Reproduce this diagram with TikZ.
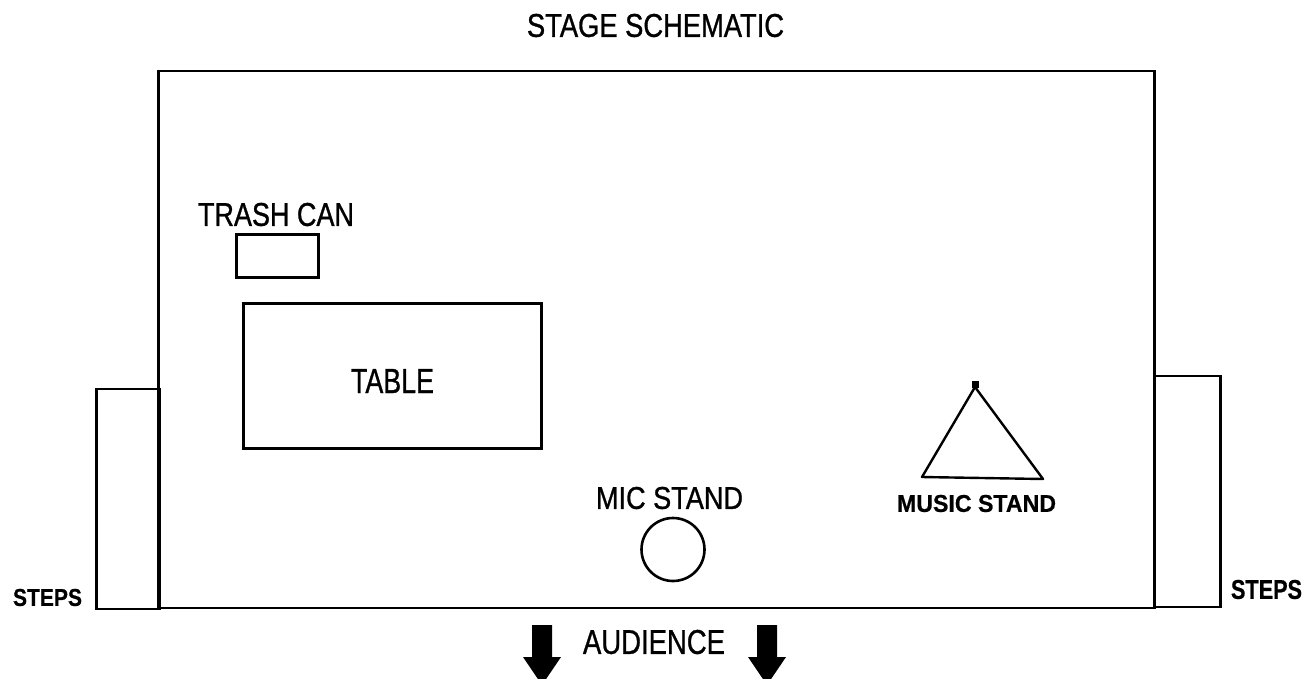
\documentclass[tikz,border=0pt]{standalone}
\usepackage{fontspec}
\setmainfont[FakeBold=1.0]{Liberation Sans}
\newfontfamily\boldsans[FakeBold=0.6]{Liberation Sans Bold}
\usepackage{graphicx}
\newcommand{\fitt}[3]{\resizebox{#1pt}{#2pt}{#3}}
\begin{document}
\begin{tikzpicture}[x=1pt,y=-1pt,
  outline/.style={draw=black, line width=2.6pt, inner sep=0pt, outer sep=0pt, fill=none},
  lbl/.style={inner sep=0pt, outer sep=0pt, text=black}]
\useasboundingbox (0,0) rectangle (1305,678);
\clip (0,0) rectangle (1305,678);
% title
\node[lbl] (title) at (655.5,25.5) {\fitt{257}{23}{STAGE SCHEMATIC}};
% stage
\node[outline, minimum width=996pt, minimum height=537pt] (stage) at (656.5,339.5) {};
% steps
\node[outline, minimum width=63pt, minimum height=220pt] (stepsLbox) at (128,499) {};
\node[outline, minimum width=66pt, minimum height=231pt] (stepsRbox) at (1187.5,491.5) {};
\node[lbl] (stepsL) at (47.5,597.5) {\fitt{69}{17}{\boldsans STEPS}};
\node[lbl] (stepsR) at (1266.5,589.5) {\fitt{71}{19}{\boldsans STEPS}};
% trash can
\node[lbl] (trashlbl) at (276,214.5) {\fitt{156}{23}{TRASH CAN}};
\node[outline, minimum width=82pt, minimum height=43pt] (trash) at (277.5,256) {};
% table
\node[outline, minimum width=298pt, minimum height=145pt] (table) at (392.5,376) {};
\node[lbl] (tablelbl) at (392.5,381) {\fitt{83}{24}{TABLE}};
% mic stand
\node[lbl] (miclbl) at (669.5,498) {\fitt{147}{22}{MIC STAND}};
\node[outline, circle, minimum size=63pt] (mic) at (673,549.5) {};
% music stand
\coordinate (apex) at (975,387);
\coordinate (bl) at (922,477);
\coordinate (br) at (1043,479);
\draw[outline, line width=2.4pt, line join=round] (apex) -- (bl) -- (br) -- cycle;
\fill[black] (971.5,381) rectangle (978.5,387.5);
\node[lbl] (muslbl) at (976.5,503.5) {\fitt{159}{17}{\boldsans MUSIC STAND}};
% audience
\node[lbl] (audlbl) at (654,642) {\fitt{142}{24}{AUDIENCE}};
\foreach \cx in {542,767}{
  \fill[black] (\cx-10,625) -- (\cx+10,625) -- (\cx+10,657) -- (\cx+19,657)
    -- (\cx,685) -- (\cx-19,657) -- (\cx-10,657) -- cycle;
}
\end{tikzpicture}
\end{document}
